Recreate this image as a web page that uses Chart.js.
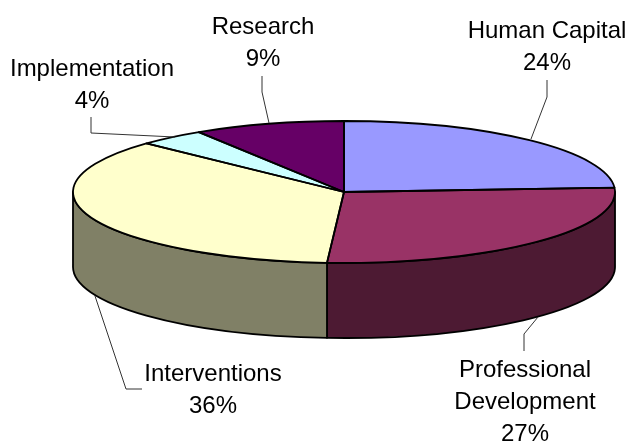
<!DOCTYPE html>
<html>
<head>
<meta charset="utf-8">
<style>
  html, body { margin: 0; padding: 0; background: #fff; }
  canvas { display: block; }
</style>
<script src="https://cdn.jsdelivr.net/npm/chart.js@4/dist/chart.umd.min.js"></script>
</head>
<body>
<canvas id="chart" width="631" height="443"></canvas>
<script>
const categories = ['Human Capital', 'Professional Development', 'Interventions', 'Implementation', 'Research'];
const shares = [24, 27, 36, 4, 9];
const topColors = ['#9999FF', '#993366', '#FFFFCC', '#CCFFFF', '#660066'];
const sideColors = ['#4D4D80', '#4D1A33', '#808066', '#668080', '#330033'];

// where the tilted pie sits on the page
const tilt = { cx: 344, cy: 192, rx: 271, ry: 71, depth: 75 };

// callouts, same order as categories
const callouts = [
  { x: 547, base: 38, lines: ['Human Capital'], leader: [[547, 80], [547, 97], [531, 139]] },
  { x: 525, base: 377, lines: ['Professional', 'Development'], leader: [[524, 351], [524, 334], [538, 317]] },
  { x: 213, base: 381, lines: ['Interventions'], leader: [[142, 389], [126, 389], [95, 296]] },
  { x: 92, base: 76, lines: ['Implementation'], leader: [[91, 117], [91, 133], [175, 137]] },
  { x: 263, base: 34, lines: ['Research'], leader: [[262, 76], [262, 92], [269, 123]] }
];

const tiltedPie = {
  id: 'tiltedPie',
  beforeDatasetDraw(chart) {
    const ctx = chart.ctx;
    const arcs = chart.getDatasetMeta(0).data;
    const { cx, cy, rx, ry, depth } = tilt;

    // side wall, only the front half of the rim shows
    ctx.lineWidth = 1.8;
    ctx.strokeStyle = '#000';
    ctx.lineJoin = 'round';
    arcs.forEach((arc, i) => {
      const a0 = Math.max(arc.startAngle, 0);
      const a1 = Math.min(arc.endAngle, Math.PI);
      if (a1 <= a0) return;
      ctx.beginPath();
      ctx.ellipse(cx, cy, rx, ry, 0, a0, a1);
      ctx.ellipse(cx, cy + depth, rx, ry, 0, a1, a0, true);
      ctx.closePath();
      ctx.fillStyle = sideColors[i];
      ctx.fill();
      ctx.stroke();
    });

    // squash the circle the library lays out
    const first = arcs[0];
    const r = first.outerRadius;
    ctx.save();
    ctx.translate(cx, cy);
    ctx.scale(rx / r, ry / r);
    ctx.translate(-first.x, -first.y);
  },
  afterDatasetDraw(chart) {
    const ctx = chart.ctx;
    ctx.restore();
    const arcs = chart.getDatasetMeta(0).data;
    const { cx, cy, rx, ry } = tilt;

    // outlines here so the line width isn't squashed too
    ctx.lineWidth = 1.8;
    ctx.strokeStyle = '#000';
    ctx.lineJoin = 'round';
    arcs.forEach(arc => {
      ctx.beginPath();
      ctx.moveTo(cx, cy);
      ctx.ellipse(cx, cy, rx, ry, 0, arc.startAngle, arc.endAngle);
      ctx.closePath();
      ctx.stroke();
    });

    ctx.lineWidth = 1;
    ctx.strokeStyle = '#333';
    callouts.forEach(c => {
      ctx.beginPath();
      c.leader.forEach((p, k) => k ? ctx.lineTo(p[0], p[1]) : ctx.moveTo(p[0], p[1]));
      ctx.stroke();
    });

    ctx.fillStyle = '#000';
    ctx.font = '24px "Liberation Sans", Arial, sans-serif';
    ctx.textAlign = 'center';
    ctx.textBaseline = 'alphabetic';
    callouts.forEach((c, i) => {
      const lines = c.lines.concat(shares[i] + '%');
      lines.forEach((t, k) => ctx.fillText(t, c.x, c.base + k * 32));
    });
  }
};

new Chart(document.getElementById('chart'), {
  type: 'pie',
  data: {
    labels: categories,
    datasets: [{
      data: shares,
      backgroundColor: topColors,
      borderWidth: 0,
      clip: false
    }]
  },
  options: {
    responsive: false,
    animation: false,
    plugins: {
      legend: { display: false },
      tooltip: { enabled: false }
    }
  },
  plugins: [tiltedPie]
});
</script>
</body>
</html>
